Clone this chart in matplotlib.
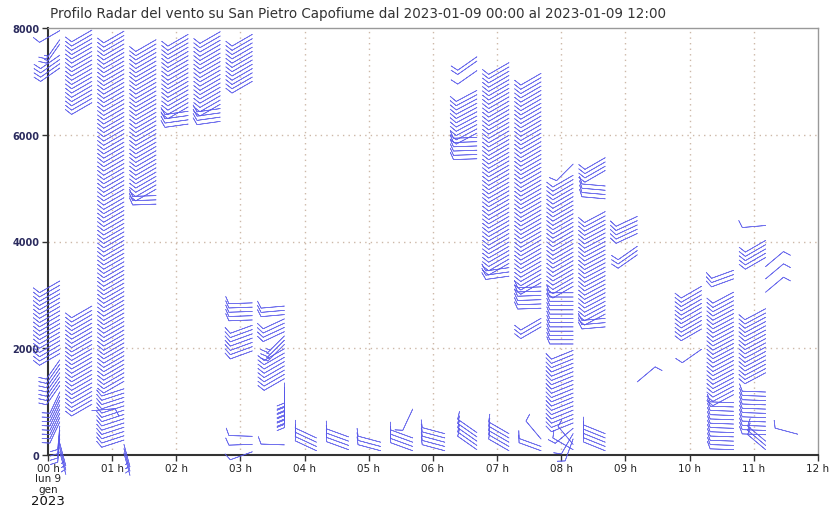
import numpy as np
import matplotlib
matplotlib.use("Agg")
import matplotlib.pyplot as plt

# ---------------- data ----------------
TITLE = "Profilo Radar del vento su San Pietro Capofiume dal 2023-01-09 00:00 al 2023-01-09 12:00"
x_ticklabels = ["00 h", "01 h", "02 h", "03 h", "04 h", "05 h", "06 h",
                "07 h", "08 h", "09 h", "10 h", "11 h", "12 h"]
y_ticks = [0, 2000, 4000, 6000, 8000]
GATE = 80  # radar range-gate spacing (m)

# wind profile blocks: observation time, lowest / highest gate (m), direction (deg), speed (kt)
seg_time = ["00:11", "00:11", "00:11", "00:11", "00:11", "00:11", "00:11", "00:11",
            "00:41", "00:41", "00:41",
            "01:11", "01:11", "01:11",
            "01:41", "01:41",
            "02:11", "02:11",
            "02:41", "02:41",
            "03:11", "03:11", "03:11", "03:11", "03:11", "03:11",
            "03:41", "03:41", "03:41", "03:41", "03:41", "03:41",
            "04:11", "04:41", "05:11", "05:41", "05:41", "06:11",
            "06:41", "06:41", "06:41", "06:41", "06:41",
            "07:11", "07:11", "07:11",
            "07:41", "07:41", "07:41", "07:41", "07:41",
            "08:11", "08:11", "08:11", "08:11", "08:11", "08:11", "08:11", "08:11", "08:11",
            "08:41", "08:41", "08:41", "08:41", "08:41",
            "09:11", "09:11", "09:11",
            "10:11", "10:11",
            "10:41", "10:41", "10:41",
            "11:11", "11:11", "11:11", "11:11", "11:11", "11:11", "11:11", "11:11",
            "11:41"]
seg_zbot = [60, 300, 620, 1300, 1900, 7250, 7700, 7950,
            830, 950, 6600,
            40, 280, 1380,
            4700, 4980,
            6200, 6520,
            6250, 6570,
            60, 200, 350, 1950, 2530, 7000,
            190, 950, 1430, 2070, 2310, 2630,
            80, 100, 80, 80, 860, 80,
            100, 5550, 6030, 7200, 7380,
            80, 3350, 3590,
            80, 300, 2400, 2750, 3230,
            100, 200, 300, 400, 500, 600, 2080, 3160, 5450,
            80, 2400, 2640, 4800, 5330,
            1370, 3750, 4150,
            1980, 2360,
            100, 1130, 3300,
            100, 380, 1540, 3050, 3300, 3530, 3700, 4300,
            390]
seg_ztop = [220, 540, 1220, 1820, 3330, 7500, 7850, 7950,
            830, 2850, 8000,
            200, 1300, 8000,
            4900, 7800,
            6440, 7950,
            6490, 7950,
            60, 200, 350, 2450, 2900, 7950,
            190, 1350, 1990, 2230, 2550, 2790,
            320, 340, 300, 320, 860, 400,
            420, 5950, 6830, 7200, 7460,
            400, 3510, 7400,
            160, 300, 2560, 3150, 7200,
            100, 200, 300, 400, 500, 2000, 3080, 5300, 5450,
            400, 2560, 4600, 5040, 5580,
            1370, 3910, 4470,
            1980, 3160,
            1050, 3050, 3460,
            300, 1200, 2780, 3050, 3300, 3530, 4020, 4300,
            390]
seg_dir = [165, 185, 205, 215, 240, 235, 215, 240,
           85, 240, 240,
           165, 252, 240,
           268, 240,
           262, 240,
           262, 240,
           250, 268, 272, 250, 268, 240,
           272, 180, 240, 225, 245, 265,
           295, 290, 285, 290, 205, 285,
           305, 268, 242, 235, 235,
           300, 262, 240,
           290, 320, 240, 268, 240,
           300, 320, 200, 210, 230, 248, 270, 240, 225,
           292, 265, 242, 275, 240,
           50, 235, 245,
           235, 240,
           272, 242, 250,
           310, 272, 242, 50, 50, 50, 240, 265,
           285]
seg_spd = [5, 10, 10, 10, 10, 10, 15, 10,
           10, 10, 10,
           5, 10, 10,
           10, 10,
           10, 10,
           10, 10,
           10, 10, 10, 10, 10, 10,
           10, 20, 10, 15, 10, 10,
           10, 10, 10, 10, 10, 10,
           10, 10, 10, 10, 10,
           10, 10, 10,
           10, 10, 10, 10, 10,
           10, 10, 10, 10, 10, 10, 10, 10, 10,
           10, 10, 10, 10, 10,
           10, 10, 10,
           10, 10,
           10, 10, 10,
           10, 10, 10, 10, 10, 10, 10, 10,
           10]

# ---------------- expand blocks to gates ----------------
def to_hours(s):
    h, m = s.split(":")
    return int(h) + int(m) / 60.0

X, Z, U, V = [], [], [], []
for t, zb, zt, d, s in zip(seg_time, seg_zbot, seg_ztop, seg_dir, seg_spd):
    heights = np.arange(zb, zt + 1, GATE)
    for z in heights:
        X.append(to_hours(t))
        Z.append(z)
        r = np.deg2rad(d)
        U.append(-s * np.sin(r))
        V.append(-s * np.cos(r))

# ---------------- figure ----------------
W, H = 834, 510
fig = plt.figure(figsize=(W / 100, H / 100), dpi=100)
L, R, B, T = 48, 818, 456, 29
ax = fig.add_axes([L / W, 1 - B / H, (R - L) / W, (B - T) / H])

ax.set_xlim(0, 12)
ax.set_ylim(0, 8000)

grid_kw = dict(color="#cdb8a8", linestyle=(0, (1, 3)), linewidth=1.0, zorder=0)
for hx in range(1, 12):
    ax.axvline(hx, **grid_kw)
for yy in (2000, 4000, 6000):
    ax.axhline(yy, **grid_kw)

ax.barbs(X, Z, U, V, length=5.8, pivot="tip", barbcolor="#5858ea",
         linewidth=0.5, alpha=0.85,
         sizes=dict(height=0.31, spacing=0.14, emptybarb=0.08),
         clip_on=False, zorder=3)

for side in ("left", "bottom"):
    ax.spines[side].set_color("#333333")
    ax.spines[side].set_linewidth(1.5)
for side in ("top", "right"):
    ax.spines[side].set_color("#999999")
    ax.spines[side].set_linewidth(1.0)

ax.set_xticks(range(13))
ax.set_xticklabels(x_ticklabels, fontsize=7.5, color="#222222")
ax.set_yticks(y_ticks)
ax.set_yticklabels([str(v) for v in y_ticks], fontsize=7, color="#2b2b5e",
                   fontweight="bold")
ax.tick_params(axis="both", length=4, width=1, color="#333333", pad=2)

fig.text(L / W, 1 - 479 / H, "lun 9", ha="center", va="center",
         fontsize=7.5, color="#222222")
fig.text(L / W, 1 - 490 / H, "gen", ha="center", va="center",
         fontsize=7.5, color="#222222")
fig.text(L / W, 1 - 502 / H, "2023", ha="center", va="center",
         fontsize=9.5, color="#111111")

fig.text(50 / W, 1 - 14 / H, TITLE, ha="left", va="center",
         fontsize=9.75, color="#333333")

fig.savefig("out.png", dpi=100)
